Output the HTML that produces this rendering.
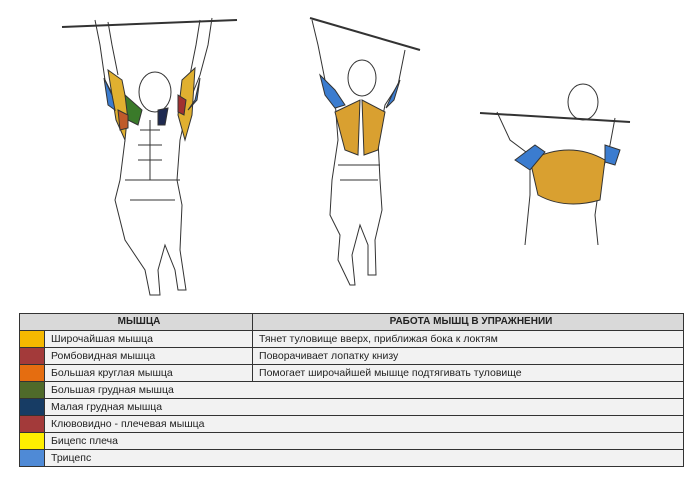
<!DOCTYPE html>
<html><head><meta charset="utf-8"><style>
html,body{margin:0;padding:0;background:#fff;}
body{width:700px;height:484px;position:relative;overflow:hidden;font-family:"Liberation Sans","DejaVu Sans",sans-serif;}
svg{position:absolute;left:0;top:0;}
table{position:absolute;left:19px;top:313px;width:665px;border-collapse:collapse;font-size:10.5px;color:#222;table-layout:fixed;}
td{border:1px solid #333;height:16px;padding:0 0 0 6px;background:#f2f2f2;line-height:16px;white-space:nowrap;overflow:hidden;}
tr.h td{background:#d9d9d9;font-weight:bold;text-align:center;font-size:10px;}
td.c{padding:0;}
</style></head><body>
<svg width="700" height="310" viewBox="0 0 700 310" fill="none" stroke="#333" stroke-width="1">
<line x1="62" y1="27" x2="237" y2="20" stroke-width="2"/>
<path d="M95 20 L100 45 L105 80 L118 105 L125 140 L120 180 L115 200 L125 240 L145 270 L150 295 L160 295 L158 270 L165 245 L175 270 L178 290 L186 290 L180 250 L182 205 L177 180 L180 140 L188 105 L200 75 L208 45 L212 18"/>
<path d="M108 22 L112 45 L118 75 M200 20 L196 45 L190 75"/>
<ellipse cx="155" cy="92" rx="16" ry="20"/>
<path d="M125 180 L180 180 M130 200 L175 200 M150 120 L150 180 M140 130 L160 130 M138 145 L162 145 M138 160 L162 160"/>
<path d="M108 70 L122 80 L128 110 L125 140 L116 120 Z" fill="#e0b030"/>
<path d="M104 78 L112 95 L115 110 L108 105 Z" fill="#3b7ccf"/>
<path d="M125 95 L142 110 L138 125 L128 120 Z" fill="#3a7a2a"/>
<path d="M118 110 L128 115 L128 128 L120 130 Z" fill="#c05a2a"/>
<path d="M195 68 L182 80 L178 115 L185 140 L192 115 Z" fill="#e0b030"/>
<path d="M200 78 L195 100 L188 110 L197 100 Z" fill="#3b7ccf"/>
<path d="M158 110 L168 108 L165 125 L158 125 Z" fill="#1f2a50"/>
<path d="M178 95 L186 100 L184 115 L178 112 Z" fill="#a03030"/>
<line x1="310" y1="18" x2="420" y2="50" stroke-width="2"/>
<path d="M312 20 L318 45 L325 80 L335 100 L338 140 L332 180 L330 215 L340 235 L338 260 L350 285 L355 285 L352 255 L360 225 L368 245 L368 275 L376 275 L375 240 L382 210 L380 180 L378 140 L385 105 L398 85 L405 50"/>
<ellipse cx="362" cy="78" rx="14" ry="18"/>
<path d="M338 165 L380 165 M340 180 L378 180"/>
<path d="M335 112 L360 100 L358 155 L345 150 Z" fill="#d9a030"/>
<path d="M385 112 L362 100 L364 155 L378 150 Z" fill="#d9a030"/>
<path d="M320 75 L335 90 L345 105 L335 108 L325 95 Z" fill="#3b7ccf"/>
<path d="M400 80 L392 95 L386 108 L394 100 Z" fill="#3b7ccf"/>
<line x1="480" y1="113" x2="630" y2="122" stroke-width="2"/>
<path d="M497 112 L510 140 L530 155 L530 195 L525 245 M615 118 L610 145 L600 180 L595 215 L598 245"/>
<ellipse cx="583" cy="102" rx="15" ry="18"/>
<path d="M530 160 Q570 140 605 160 L600 200 Q565 210 538 195 Z" fill="#d9a030"/>
<path d="M515 160 L535 145 L545 152 L530 170 Z" fill="#3b7ccf"/>
<path d="M605 145 L620 150 L615 165 L605 162 Z" fill="#3b7ccf"/>
</svg>
<table>
<colgroup><col style="width:25px"><col style="width:208px"><col></colgroup>
<tr class="h"><td colspan="2">МЫШЦА</td><td>РАБОТА МЫШЦ В УПРАЖНЕНИИ</td></tr>
<tr><td class="c" style="background:#f5b800"></td><td>Широчайшая мышца</td><td>Тянет туловище вверх, приближая бока к локтям</td></tr>
<tr><td class="c" style="background:#a33a3a"></td><td>Ромбовидная мышца</td><td>Поворачивает лопатку книзу</td></tr>
<tr><td class="c" style="background:#e56d10"></td><td>Большая круглая мышца</td><td>Помогает широчайшей мышце подтягивать туловище</td></tr>
<tr><td class="c" style="background:#4f6a2a"></td><td colspan="2">Большая грудная мышца</td></tr>
<tr><td class="c" style="background:#173c64"></td><td colspan="2">Малая грудная мышца</td></tr>
<tr><td class="c" style="background:#a33a3a"></td><td colspan="2">Клювовидно - плечевая мышца</td></tr>
<tr><td class="c" style="background:#ffee00"></td><td colspan="2">Бицепс плеча</td></tr>
<tr><td class="c" style="background:#4f8ad6"></td><td colspan="2">Трицепс</td></tr>
</table>
</body></html>
